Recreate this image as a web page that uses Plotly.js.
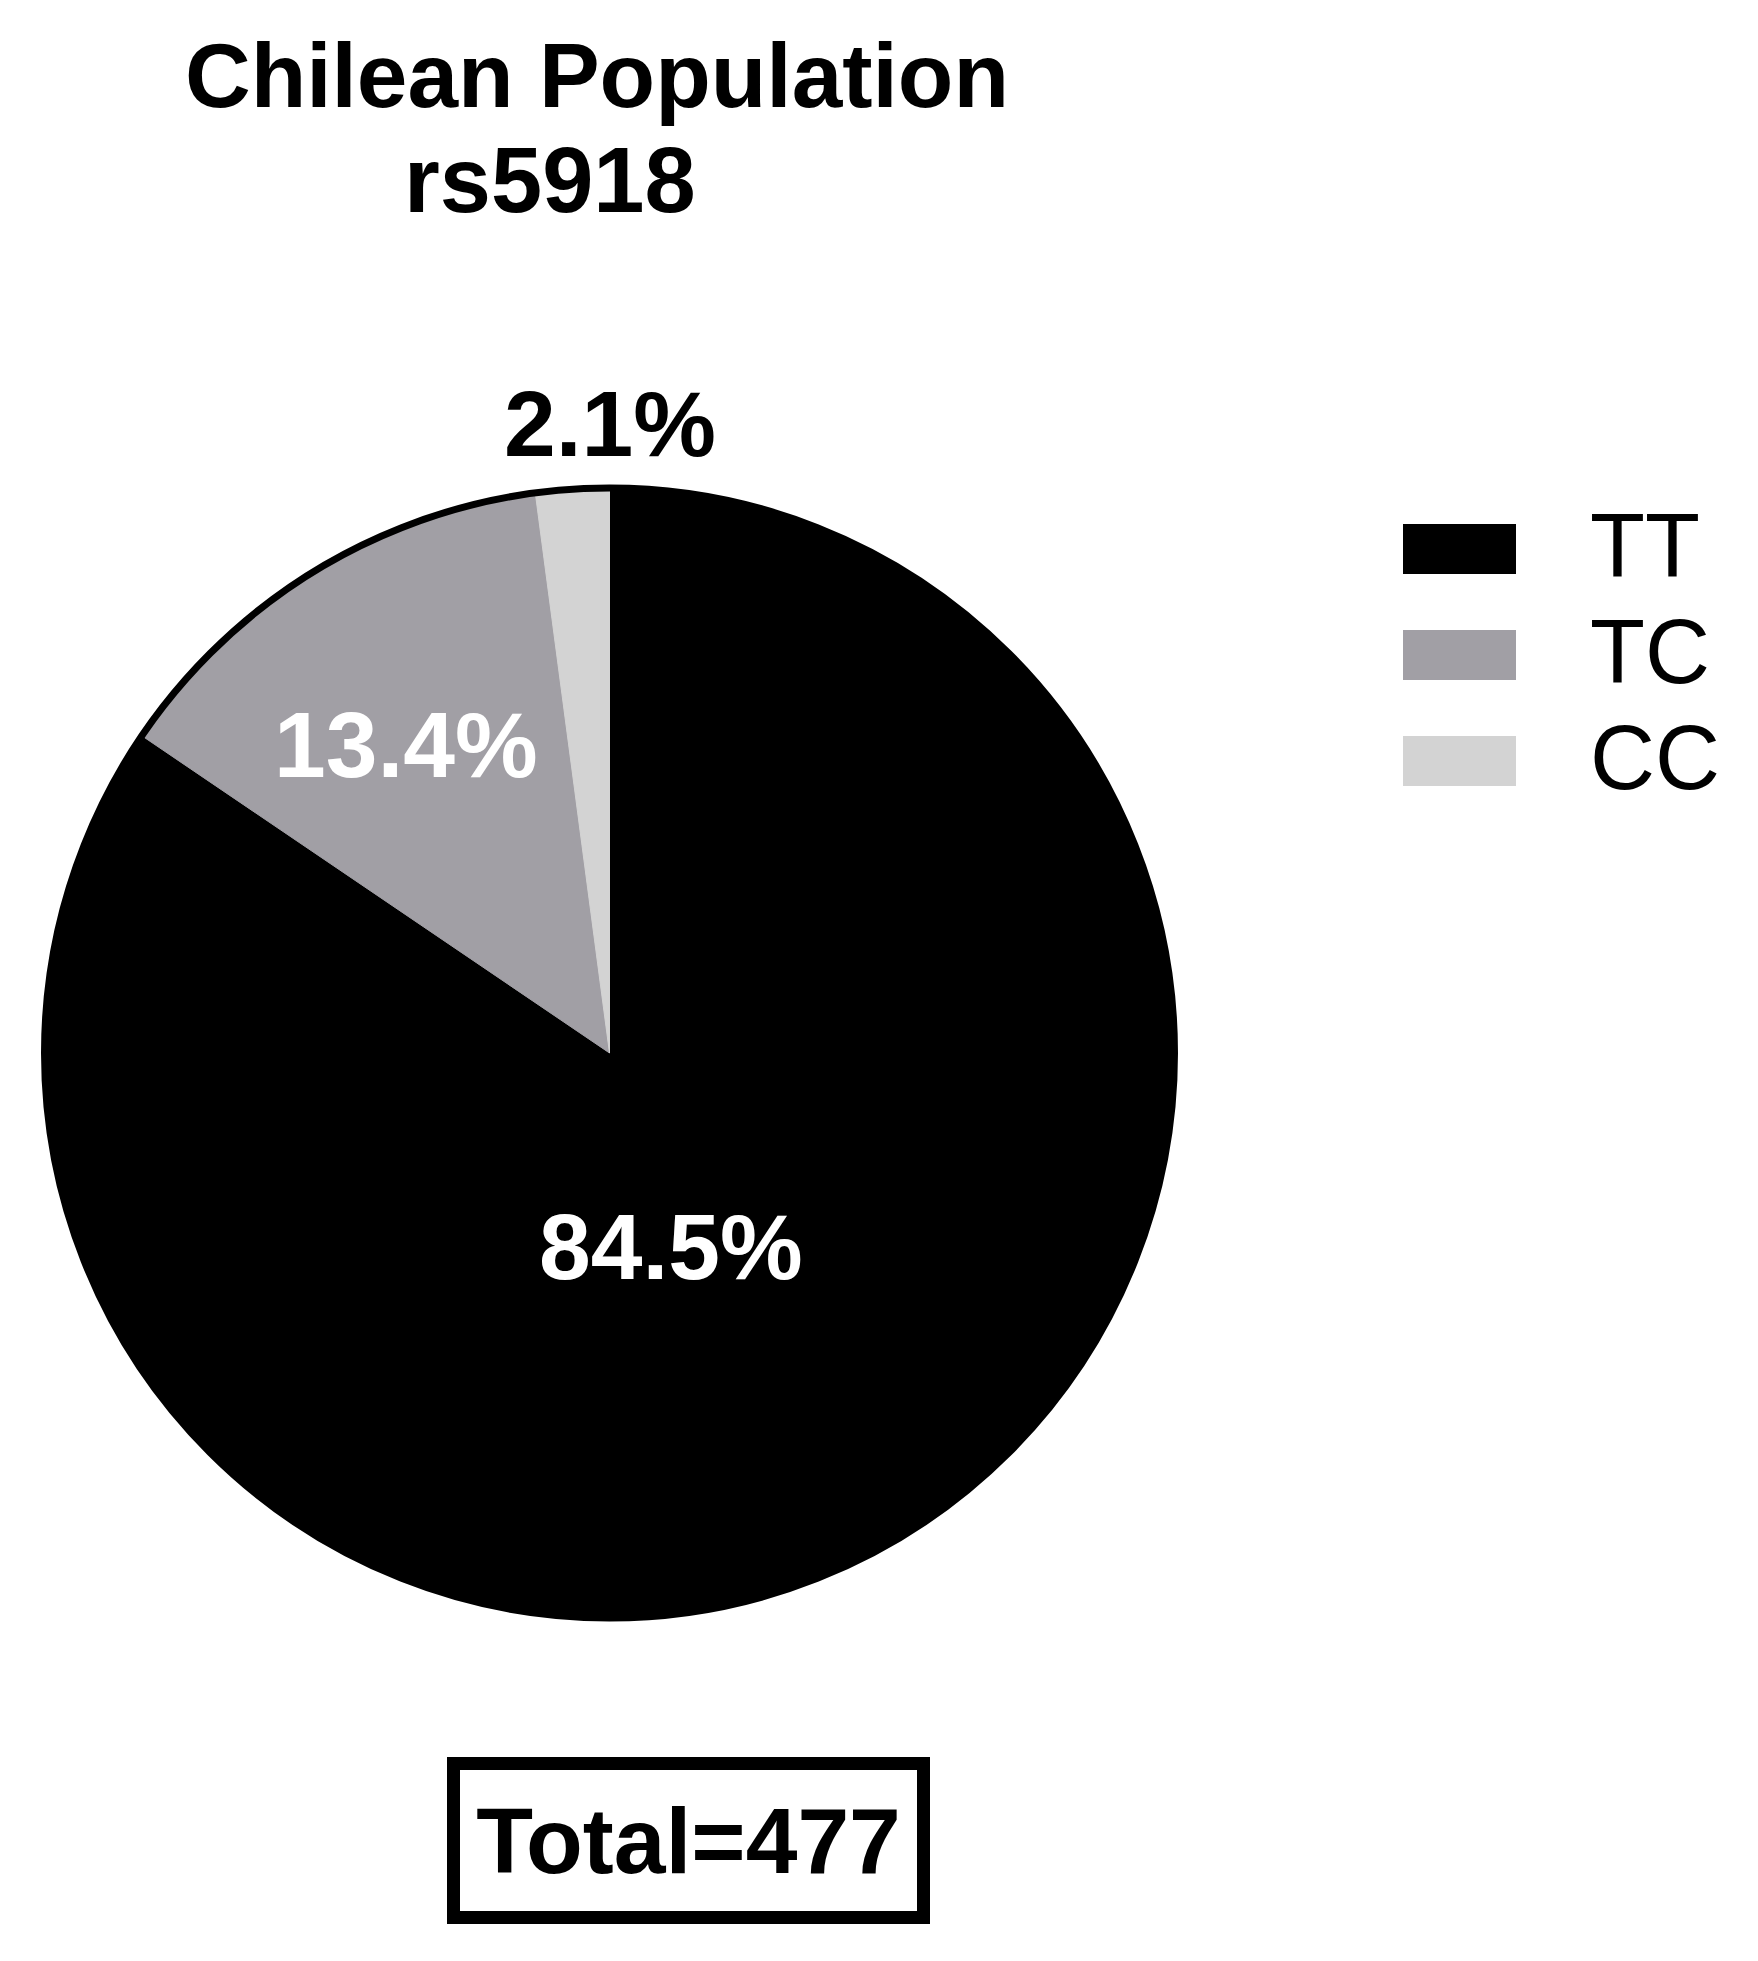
<!DOCTYPE html>
<html>
<head>
<meta charset="utf-8">
<script src="https://cdn.plot.ly/plotly-3.0.1.min.js"></script>
<style>
  html, body { margin: 0; padding: 0; background: #ffffff; }
  #chart { width: 1758px; height: 1961px; }
</style>
</head>
<body>
<div id="chart"></div>
<script>
// ---- data ----
const genotypes = ['TT', 'TC', 'CC'];
const counts = [403, 64, 10];               // Total = 477 -> 84.5 %, 13.4 %, 2.1 %
const sliceColors = ['#000000', '#a19fa5', '#d3d3d3'];
const labelColors = ['#ffffff', '#ffffff', '#000000'];
const titleLines = ['Chilean Population', 'rs5918'];
const totalLabel = 'Total=';

// ---- layout constants ----
const W = 1758, H = 1961;
const FONT = 'Liberation Sans, Arial, sans-serif';
const total = counts.reduce((a, b) => a + b, 0);

// pie placement (pixels): centre and radius
const PIE_CX = 609.5, PIE_CY = 1053, PIE_R = 565;
const pieDomain = {
  x: [(PIE_CX - PIE_R) / W, (PIE_CX + PIE_R) / W],
  y: [1 - (PIE_CY + PIE_R) / H, 1 - (PIE_CY - PIE_R) / H]
};
// label placement relative to each slice: radius fraction and angle nudge (deg)
const labelRadius = [0.36, 0.653, 1.114];
const labelAngleNudge = [10.2, -1.7, 3.8];

const pie = {
  type: 'pie',
  labels: genotypes,
  values: counts,
  sort: false,
  direction: 'clockwise',
  rotation: 0,
  domain: pieDomain,
  marker: { colors: sliceColors, line: { color: sliceColors, width: 1 } },
  textinfo: 'none',
  hoverinfo: 'label+percent',
  showlegend: false
};

// outer outline of the whole pie (single full slice, transparent fill)
const outline = {
  type: 'pie',
  labels: ['all'],
  values: [total],
  sort: false,
  domain: pieDomain,
  marker: { colors: ['rgba(0,0,0,0)'], line: { color: '#000000', width: 7 } },
  textinfo: 'none',
  hoverinfo: 'skip',
  showlegend: false
};

const shapes = [];
const annotations = [];

// percentage labels, placed from each slice's mid-angle
let cum = 0;
counts.forEach((v, i) => {
  const frac = v / total;
  const mid = (cum + frac / 2) * 360 + labelAngleNudge[i];
  cum += frac;
  const th = mid * Math.PI / 180;
  const px = PIE_CX + labelRadius[i] * PIE_R * Math.sin(th);
  const py = PIE_CY - labelRadius[i] * PIE_R * Math.cos(th);
  annotations.push({
    xref: 'paper', yref: 'paper',
    x: px / W, y: 1 - py / H,
    xanchor: 'center', yanchor: 'middle',
    text: (frac * 100).toFixed(1) + '%', showarrow: false,
    font: { family: FONT, size: 93, color: labelColors[i], weight: 'bold' }
  });
});

// custom legend built from the category / colour arrays
genotypes.forEach((g, i) => {
  const yc = 549 + i * 106;
  shapes.push({
    type: 'rect', xref: 'paper', yref: 'paper',
    x0: 1403 / W, x1: 1516 / W,
    y0: 1 - (yc + 25) / H, y1: 1 - (yc - 25) / H,
    fillcolor: sliceColors[i], line: { width: 0 }
  });
  annotations.push({
    xref: 'paper', yref: 'paper',
    x: 1588 / W, y: 1 - (yc - 3) / H,
    xanchor: 'left', yanchor: 'middle',
    text: g, showarrow: false,
    font: { family: FONT, size: 90, color: '#000000' }
  });
});

// second title line
annotations.push({
  xref: 'paper', yref: 'paper',
  x: 549.5 / W, y: 1 - 180 / H,
  xanchor: 'center', yanchor: 'middle',
  text: titleLines[1], showarrow: false,
  font: { family: FONT, size: 92, color: '#000000', weight: 'bold' }
});

// total box
annotations.push({
  xref: 'paper', yref: 'paper',
  x: 688 / W, y: 1 - 1840 / H,
  xanchor: 'center', yanchor: 'middle',
  text: totalLabel + total, showarrow: false,
  width: 427, height: 111,
  bordercolor: '#000000', borderwidth: 13, borderpad: 15,
  bgcolor: '#ffffff',
  font: { family: FONT, size: 93, color: '#000000', weight: 'bold' }
});

const layout = {
  width: W, height: H,
  margin: { l: 0, r: 0, t: 0, b: 0 },
  paper_bgcolor: '#ffffff',
  plot_bgcolor: '#ffffff',
  showlegend: false,
  title: {
    text: titleLines[0],
    x: 597 / W, xanchor: 'center', xref: 'paper',
    y: 1 - 43 / H, yanchor: 'top', yref: 'container',
    font: { family: FONT, size: 91, color: '#000000', weight: 'bold' }
  },
  shapes: shapes,
  annotations: annotations
};

Plotly.newPlot('chart', [pie, outline], layout, { displayModeBar: false, staticPlot: true });
</script>
</body>
</html>
